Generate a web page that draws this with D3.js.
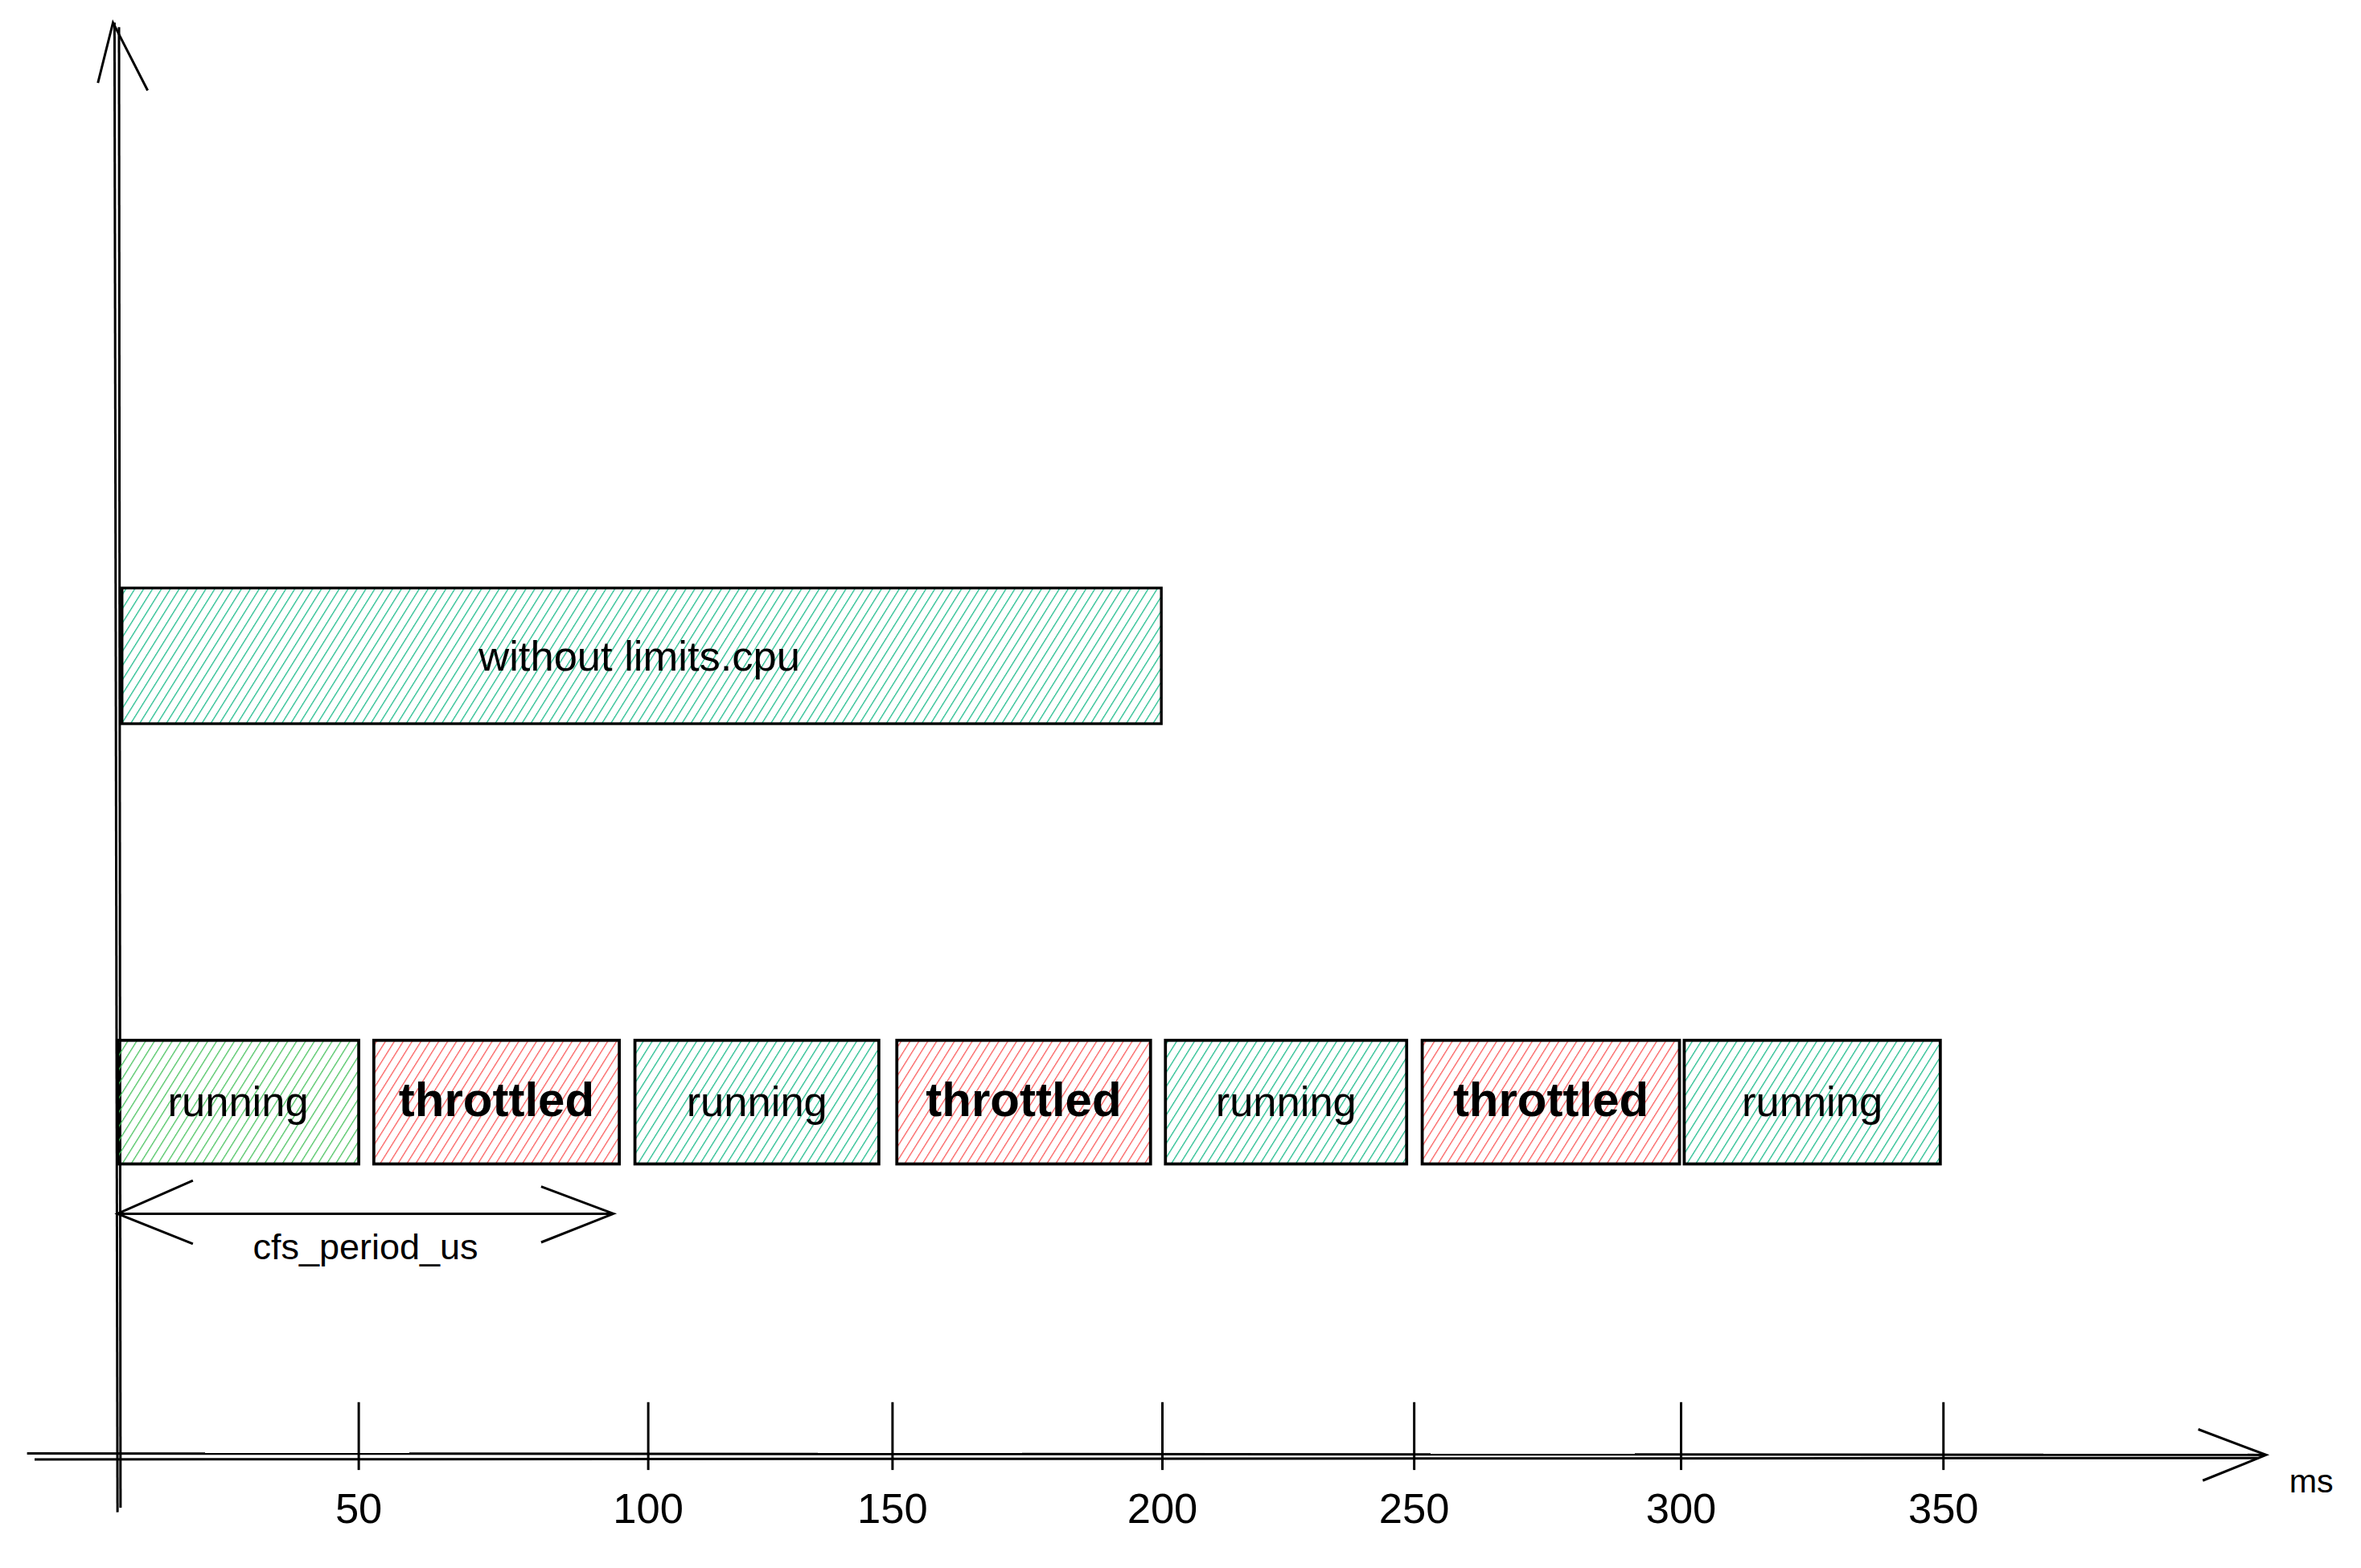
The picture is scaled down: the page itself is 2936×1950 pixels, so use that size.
<!doctype html>
<html>
<head>
<script src="https://d3js.org/d3.v7.min.js"></script>
<style>body{margin:0;background:#fff}</style>
</head>
<body>
<script>
var W = 1560, H = 1040;
// data
var ticks = [50, 100, 150, 200, 250, 300, 350];
var rowStarts = [0, 52.6, 97.7, 150.8, 200.6, 251.5, 300.6];
var rowEnds = [50, 95, 147.2, 197.8, 248.5, 299.7, 349.4];
var rowStates = ["running", "throttled", "running", "throttled", "running", "throttled", "running"];
var topBar = {start: 0, end: 199.8, label: "without limits.cpu"};
var period = [0, 94];

var colors = {green: "#40c057", teal: "#12b886", red: "#fa5252"};
var font = "'Comic Sans MS','Liberation Sans','DejaVu Sans',sans-serif";

var svg = d3.select("body").append("svg")
  .attr("width", 2936).attr("height", 1950)
  .attr("viewBox", "0 0 " + W + " " + H);

// hand-drawn axis: tick spacing is uneven, so piecewise scale
var x = d3.scaleLinear()
  .domain([0, 50, 100, 150, 200, 250, 300, 350])
  .range([75, 235, 427, 589, 768, 935, 1112, 1286]);

var defs = svg.append("defs");
function hatch(id, c){
  var p = defs.append("pattern").attr("id", id)
    .attr("patternUnits", "userSpaceOnUse").attr("width", 5).attr("height", 5)
    .attr("patternTransform", "rotate(32)");
  p.append("line").attr("x1", 0).attr("y1", 0).attr("x2", 0).attr("y2", 5)
    .attr("stroke", c).attr("stroke-width", 1.3);
}
hatch("hGreen", colors.green); hatch("hTeal", colors.teal); hatch("hRed", colors.red);

// axes
var ax = svg.append("g").attr("stroke", "#000").attr("fill", "none").attr("stroke-width", 1.6);
ax.append("line").attr("x1", 73).attr("y1", 15).attr("x2", 75).attr("y2", 1003);
ax.append("line").attr("x1", 76).attr("y1", 18).attr("x2", 77).attr("y2", 1000);
ax.append("path").attr("d", "M62,55 L72,15 L95,60");
ax.append("line").attr("x1", 15).attr("y1", 964).attr("x2", 1500).attr("y2", 965);
ax.append("line").attr("x1", 20).attr("y1", 968).attr("x2", 1495).attr("y2", 967);
ax.append("path").attr("d", "M1455,948 L1500,965 L1458,982");

ax.selectAll(".tk").data(ticks).enter().append("line")
  .attr("x1", function(d){return x(d);}).attr("x2", function(d){return x(d);})
  .attr("y1", 930).attr("y2", 975);
svg.selectAll(".tl").data(ticks).enter().append("text")
  .attr("x", function(d){return x(d);}).attr("y", 1010)
  .attr("text-anchor", "middle").attr("font-family", font).attr("font-size", 28)
  .text(function(d){return d;});
svg.append("text").attr("x", 1530).attr("y", 990).attr("text-anchor", "middle")
  .attr("font-family", font).attr("font-size", 22).text("ms");

// top bar
var tb = svg.append("g");
tb.append("rect").attr("x", x(topBar.start) + 3).attr("y", 390)
  .attr("width", x(topBar.end) - x(topBar.start) - 3).attr("height", 90)
  .attr("fill", "url(#hTeal)").attr("stroke", "#000").attr("stroke-width", 1.8);
tb.append("text").attr("x", (x(topBar.start) + x(topBar.end)) / 2).attr("y", 445)
  .attr("text-anchor", "middle").attr("font-family", font).attr("font-size", 28)
  .text(topBar.label);

// bottom row
var rows = rowStates.map(function(s, i){return {s: s, a: rowStarts[i], b: rowEnds[i], i: i};});
var g = svg.selectAll(".seg").data(rows).enter().append("g");
g.append("rect")
  .attr("x", function(d){return x(d.a);}).attr("y", 690)
  .attr("width", function(d){return x(d.b) - x(d.a);}).attr("height", 82)
  .attr("fill", function(d){return d.s === "throttled" ? "url(#hRed)" : (d.i === 0 ? "url(#hGreen)" : "url(#hTeal)");})
  .attr("stroke", "#000").attr("stroke-width", 2);
g.append("text")
  .attr("x", function(d){return (x(d.a) + x(d.b)) / 2;}).attr("y", 740)
  .attr("text-anchor", "middle").attr("font-family", font)
  .attr("font-size", function(d){return d.s === "throttled" ? 32 : 28;})
  .attr("font-weight", function(d){return d.s === "throttled" ? "bold" : "normal";})
  .text(function(d){return d.s;});

// cfs_period_us arrow
var ar = svg.append("g").attr("stroke", "#000").attr("fill", "none").attr("stroke-width", 1.6);
ar.append("line").attr("x1", x(period[0])).attr("y1", 805).attr("x2", x(period[1])).attr("y2", 805);
ar.append("path").attr("d", "M" + (x(period[0]) + 50) + ",783 L" + x(period[0]) + ",805 L" + (x(period[0]) + 50) + ",825");
ar.append("path").attr("d", "M" + (x(period[1]) - 48) + ",787 L" + x(period[1]) + ",805 L" + (x(period[1]) - 48) + ",824");
svg.append("text").attr("x", (x(period[0]) + x(period[1])) / 2).attr("y", 835)
  .attr("text-anchor", "middle").attr("font-family", font).attr("font-size", 24)
  .text("cfs_period_us");
</script>
</body>
</html>
